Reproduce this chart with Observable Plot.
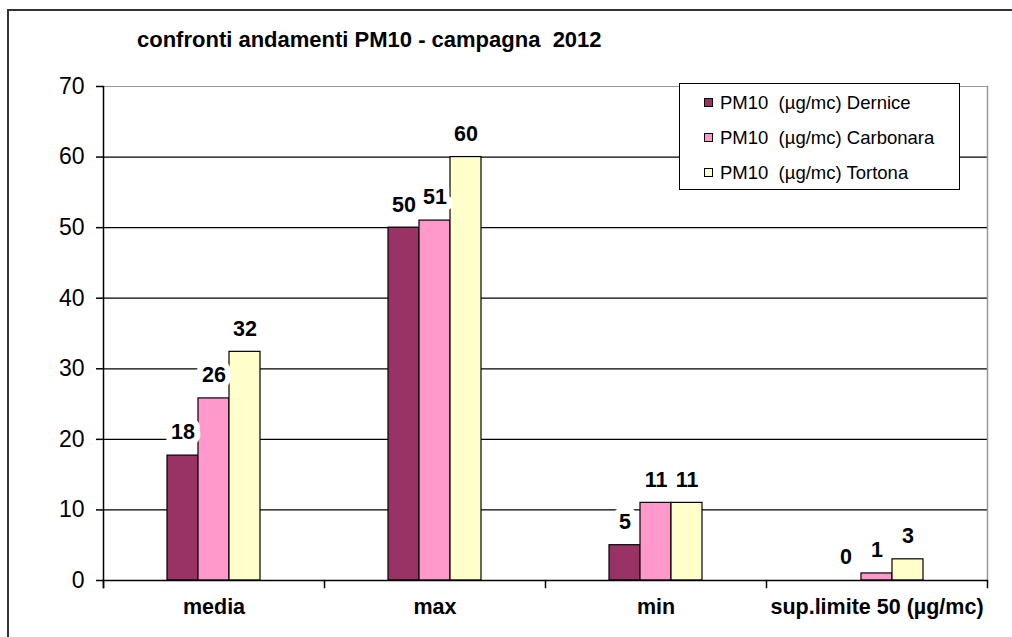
<!DOCTYPE html>
<html>
<head>
<meta charset="utf-8">
<script src="https://cdn.jsdelivr.net/npm/d3@7"></script>
<script src="https://cdn.jsdelivr.net/npm/@observablehq/plot@0.6"></script>
<style>
  body { margin: 0; background: #fff; font-family: "Liberation Sans", Arial, sans-serif; }
  #wrap { position: relative; width: 1012px; height: 637px; overflow: hidden; background: #fff; }
  #border { position: absolute; left: 7px; top: 9px; width: 1100px; height: 700px;
            border-left: 2px solid #333; border-top: 2px solid #333; }
  #title { position: relative; height: 60px; box-sizing: border-box; padding: 29px 0 0 137px;
           font-size: 22px; line-height: 22px; font-weight: bold; color: #000; white-space: pre; }
  #chart { position: relative; }
  #legend { position: absolute; left: 679px; top: 83px; width: 281px; height: 107px; box-sizing: border-box;
            border: 1px solid #000; background: #fff; padding-top: 1px; }
  .row { height: 35px; line-height: 35px; font-size: 18.5px; white-space: pre; color: #000; position: relative; padding-left: 40px; }
  .sw { position: absolute; left: 24px; top: 13px; width: 7px; height: 7px; border: 1px solid #000; }
</style>
</head>
<body>
<div id="wrap">
  <div id="border"></div>
  <div id="title"></div>
  <div id="chart"></div>
  <div id="legend"></div>
</div>
<script>
const titleText = "confronti andamenti PM10 - campagna  2012";
const categories = ["media", "max", "min", "sup.limite 50 (µg/mc)"];
const stations = ["Dernice", "Carbonara", "Tortona"];
const seriesNames = ["PM10  (µg/mc) Dernice", "PM10  (µg/mc) Carbonara", "PM10  (µg/mc) Tortona"];
const dernice = [17.7, 50, 5, 0];
const carbonara = [25.8, 51, 11, 1];
const tortona = [32.4, 60, 11, 3];
const colors = ["#993366", "#FF99CC", "#FFFFCC"];
const yTicks = [0, 10, 20, 30, 40, 50, 60, 70];
const gridTicks = [10, 20, 30, 40, 50, 60];

const seriesValues = [dernice, carbonara, tortona];
const data = categories.flatMap((cat, i) =>
  stations.map((st, j) => ({cat, station: st, value: seriesValues[j][i]}))
);

document.getElementById("title").textContent = titleText;

const H = 577, MT = 26, MB = 57;
const inner = H - MT - MB;

const plot = Plot.plot({
  width: 1012,
  height: H,
  marginLeft: 102,
  marginRight: 24,
  marginTop: MT,
  marginBottom: MB,
  style: {fontFamily: "'Liberation Sans', Arial, sans-serif", background: "transparent", color: "#000"},
  fx: {domain: categories, padding: 0, label: null},
  x: {domain: stations, paddingInner: 0, paddingOuter: 1.96, axis: null},
  y: {domain: [0, 70], label: null},
  color: {domain: stations, range: colors},
  marks: [
    Plot.gridY(gridTicks, {stroke: "#000", strokeOpacity: 1, strokeWidth: 1.2}),
    Plot.frame({anchor: "top", stroke: "#999", strokeWidth: 1.2}),
    Plot.frame({anchor: "right", stroke: "#999", strokeWidth: 1.5, facetAnchor: "right"}),
    Plot.barY(data, {fx: "cat", x: "station", y: "value", fill: "station", stroke: "#000", strokeWidth: 1.2}),
    Plot.ruleY([0], {stroke: "#000", strokeWidth: 1.5}),
    Plot.frame({anchor: "left", facetAnchor: "left", insetBottom: -7, stroke: "#000", strokeWidth: 1.5}),
    Plot.frame({anchor: "left", insetTop: inner, insetBottom: -7, stroke: "#000", strokeWidth: 1.5}),
    Plot.frame({anchor: "right", facetAnchor: "right", insetTop: inner, insetBottom: -7, stroke: "#000", strokeWidth: 1.5}),
    Plot.axisY({ticks: yTicks, tickSize: 7, tickPadding: 12, fontSize: 23, label: null, stroke: "#000", strokeWidth: 1.5, fill: "#000"}),
    Plot.axisFx({anchor: "bottom", tickSize: 0, tickPadding: 18, fontSize: 21.5, fontWeight: "bold", label: null, fill: "#000"}),
    Plot.text(data, {
      fx: "cat", x: "station", y: "value",
      text: d => String(Math.round(d.value)),
      dy: -23, fontSize: 21.5, fontWeight: "bold", fill: "#000",
      stroke: "#fff", strokeWidth: 12, paintOrder: "stroke"
    })
  ]
});
document.getElementById("chart").appendChild(plot);

const colorScale = plot.scale("color");
const legend = document.getElementById("legend");
stations.forEach((st, j) => {
  const row = document.createElement("div");
  row.className = "row";
  const sw = document.createElement("span");
  sw.className = "sw";
  sw.style.background = colorScale.apply(st);
  row.appendChild(sw);
  row.appendChild(document.createTextNode(seriesNames[j]));
  legend.appendChild(row);
});
</script>
</body>
</html>
